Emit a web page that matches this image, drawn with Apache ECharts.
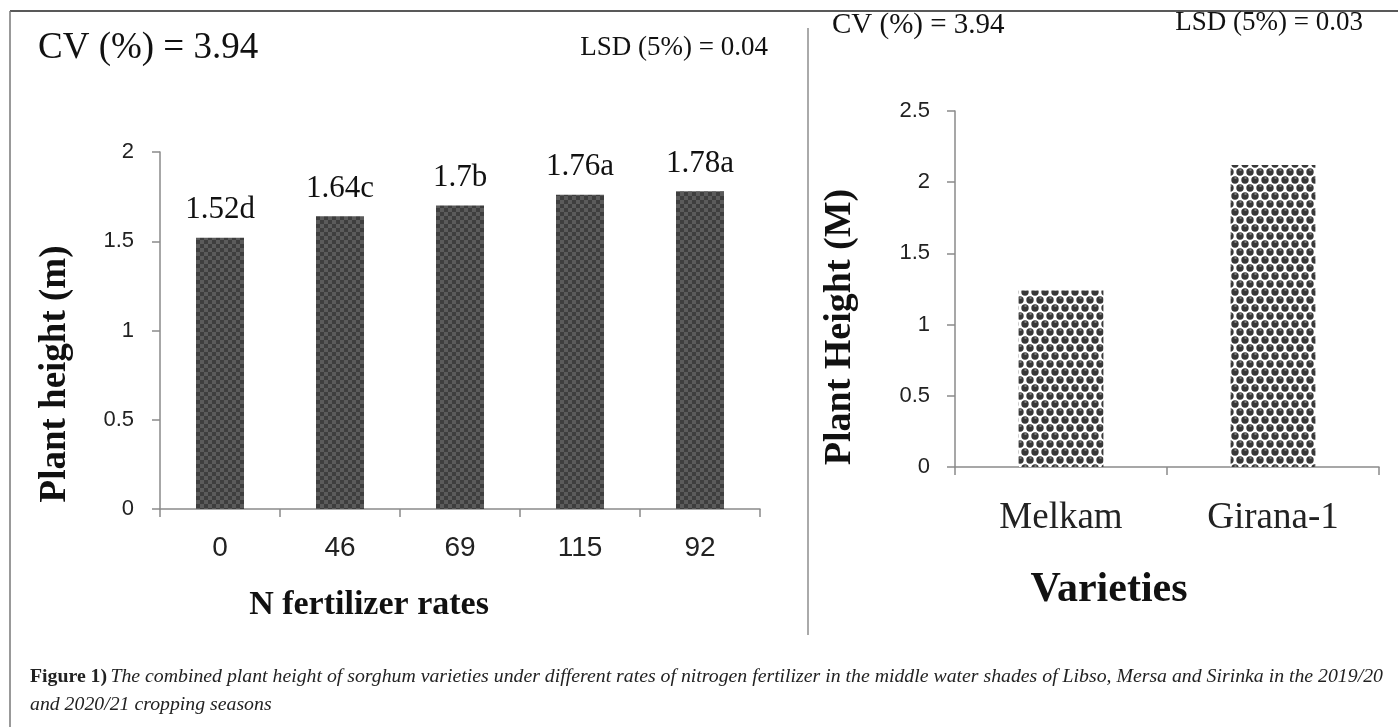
<!DOCTYPE html>
<html>
<head>
<meta charset="utf-8">
<script src="https://cdn.jsdelivr.net/npm/echarts@6/dist/echarts.min.js"></script>
<style>
html,body{margin:0;padding:0;background:#fff;}
#chart{width:1398px;height:727px;}
</style>
</head>
<body>
<div id="chart"></div>
<script>
// ---- data ----
const nRates = ['0', '46', '69', '115', '92'];
const heightN = [1.52, 1.64, 1.70, 1.76, 1.78];
const lettersN = ['d', 'c', 'b', 'a', 'a'];
const varieties = ['Melkam', 'Girana-1'];
const heightV = [1.24, 2.12];
const statsN = ['CV (%) = 3.94', 'LSD (5%) = 0.04'];
const statsV = ['CV (%) = 3.94', 'LSD (5%) = 0.03'];
const titlesN = ['N fertilizer rates', 'Plant height (m)'];
const titlesV = ['Varieties', 'Plant Height (M)'];
const captionBold = 'Figure 1)';
const captionLine1 = 'The combined plant height of sorghum varieties under different rates of nitrogen fertilizer in the middle water shades of Libso, Mersa and Sirinka in the 2019/20';
const captionLine2 = 'and 2020/21 cropping seasons';

// ---- patterns ----
function checkerPattern() {
  const c = document.createElement('canvas');
  c.width = 8; c.height = 8;
  const g = c.getContext('2d');
  g.fillStyle = '#3e3e3e'; g.fillRect(0, 0, 8, 8);
  g.fillStyle = '#5b5b5b'; g.fillRect(0, 0, 4, 4); g.fillRect(4, 4, 4, 4);
  return c;
}
function dotPattern() {
  const c = document.createElement('canvas');
  c.width = 10; c.height = 16;
  const g = c.getContext('2d');
  g.fillStyle = '#ffffff'; g.fillRect(0, 0, 10, 16);
  g.fillStyle = '#383838';
  const pts = [[5, 4], [0, 12], [10, 12]];
  pts.forEach(p => { g.beginPath(); g.arc(p[0], p[1], 3.7, 0, Math.PI * 2); g.fill(); });
  g.fillStyle = '#bdbdbd';
  pts.forEach(p => { g.fillRect(p[0] - 0.5, p[1] - 2.5, 2, 1); });
  return c;
}

const serif = '"Liberation Serif", "Times New Roman", serif';
const sans = '"Liberation Sans", Arial, sans-serif';
const axisLine = { lineStyle: { color: '#8a8a8a', width: 1.5 } };
const axisTick = { show: true, inside: false, length: 8, lineStyle: { color: '#8a8a8a', width: 1.5 } };

const chart = echarts.init(document.getElementById('chart'));
chart.setOption({
  backgroundColor: '#ffffff',
  animation: false,
  grid: [
    { left: 160, top: 152, width: 600, height: 357 },
    { left: 955, top: 111, width: 424, height: 356 }
  ],
  xAxis: [
    {
      gridIndex: 0, type: 'category', data: nRates,
      axisLine: axisLine, axisTick: axisTick,
      axisLabel: { margin: 25, fontFamily: sans, fontSize: 28, color: '#222' }
    },
    {
      gridIndex: 1, type: 'category', data: varieties,
      axisLine: axisLine, axisTick: axisTick,
      axisLabel: { margin: 33, fontFamily: serif, fontSize: 37, color: '#222' }
    }
  ],
  yAxis: [
    {
      gridIndex: 0, type: 'value', min: 0, max: 2, interval: 0.5,
      axisLine: { show: true, lineStyle: { color: '#8a8a8a', width: 1.5 } }, axisTick: axisTick,
      splitLine: { show: false },
      axisLabel: { margin: 26, fontFamily: sans, fontSize: 22, color: '#222' }
    },
    {
      gridIndex: 1, type: 'value', min: 0, max: 2.5, interval: 0.5,
      axisLine: { show: true, lineStyle: { color: '#8a8a8a', width: 1.5 } }, axisTick: axisTick,
      splitLine: { show: false },
      axisLabel: { margin: 25, fontFamily: sans, fontSize: 22, color: '#222' }
    }
  ],
  series: [
    {
      type: 'bar', xAxisIndex: 0, yAxisIndex: 0, data: heightN, barWidth: '40%',
      itemStyle: { color: { image: checkerPattern(), repeat: 'repeat' } },
      label: {
        show: true, position: 'top', distance: 12,
        fontFamily: serif, fontSize: 31, color: '#111',
        formatter: p => String(heightN[p.dataIndex]) + lettersN[p.dataIndex]
      }
    },
    {
      type: 'bar', xAxisIndex: 1, yAxisIndex: 1, data: heightV, barWidth: '40%',
      itemStyle: { color: { image: dotPattern(), repeat: 'repeat' } }
    }
  ],
  graphic: [
    { type: 'line', shape: { x1: 10, y1: 11, x2: 1398, y2: 11 }, style: { stroke: '#222', lineWidth: 1.5 } },
    { type: 'line', shape: { x1: 10, y1: 11, x2: 10, y2: 727 }, style: { stroke: '#777', lineWidth: 1.5 } },
    { type: 'line', shape: { x1: 808, y1: 28, x2: 808, y2: 635 }, style: { stroke: '#aaa', lineWidth: 2 } },
    { type: 'text', x: 38, y: 48, style: { text: statsN[0], font: '37px ' + serif, fill: '#111', verticalAlign: 'middle' } },
    { type: 'text', x: 768, y: 48, style: { text: statsN[1], font: '27px ' + serif, fill: '#111', align: 'right', verticalAlign: 'middle' } },
    { type: 'text', x: 832, y: 25, style: { text: statsV[0], font: '29px ' + serif, fill: '#111', verticalAlign: 'middle' } },
    { type: 'text', x: 1363, y: 23, style: { text: statsV[1], font: '27px ' + serif, fill: '#111', align: 'right', verticalAlign: 'middle' } },
    { type: 'text', x: 369, y: 605, style: { text: titlesN[0], font: 'bold 34px ' + serif, fill: '#111', align: 'center', verticalAlign: 'middle' } },
    { type: 'text', x: 1109, y: 590, style: { text: titlesV[0], font: 'bold 42px ' + serif, fill: '#111', align: 'center', verticalAlign: 'middle' } },
    { type: 'text', x: 55, y: 374, rotation: Math.PI / 2, style: { text: titlesN[1], font: 'bold 37px ' + serif, fill: '#111', align: 'center', verticalAlign: 'middle' } },
    { type: 'text', x: 840, y: 327, rotation: Math.PI / 2, style: { text: titlesV[1], font: 'bold 38px ' + serif, fill: '#111', align: 'center', verticalAlign: 'middle' } },
    {
      type: 'text', left: 30, top: 663,
      style: {
        text: '{b|' + captionBold + '} {i|' + captionLine1 + '}\n{i|' + captionLine2 + '}',
        lineHeight: 28,
        rich: {
          b: { fontFamily: serif, fontWeight: 'bold', fontSize: 19.8, fill: '#222', lineHeight: 28 },
          i: { fontFamily: serif, fontStyle: 'italic', fontSize: 19.8, fill: '#222', lineHeight: 28 }
        }
      }
    }
  ]
});
</script>
</body>
</html>
